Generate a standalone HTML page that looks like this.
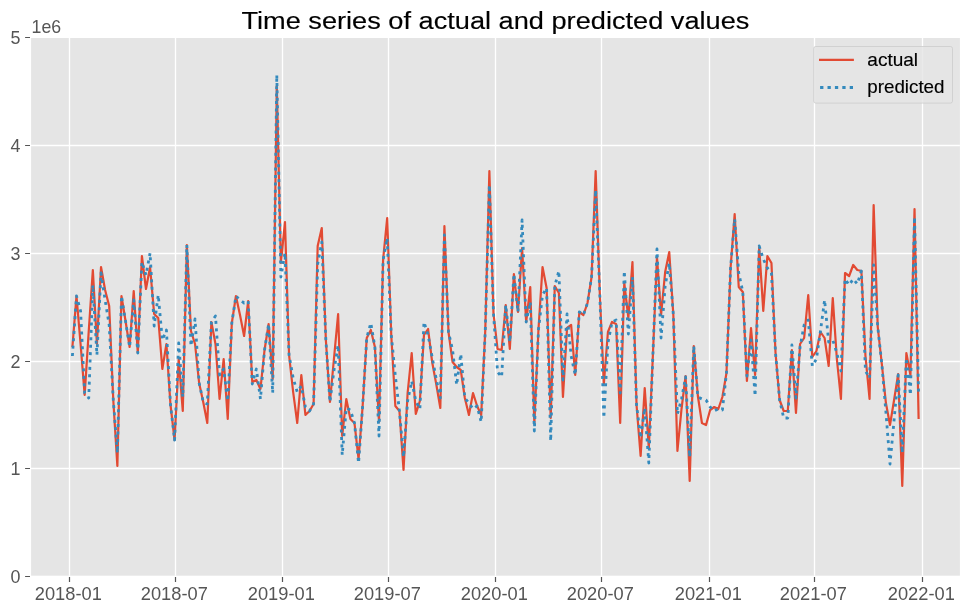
<!DOCTYPE html><html><head><meta charset="utf-8"><style>html,body{margin:0;padding:0;background:#fff;}svg{display:block;will-change:transform;}text{font-family:"Liberation Sans",sans-serif;}</style></head><body>
<svg width="970" height="614" viewBox="0 0 970 614">
<rect x="0" y="0" width="970" height="614" fill="#ffffff"/>
<rect x="31.1" y="38.0" width="928.8" height="537.7" fill="#E5E5E5"/>
<path d="M31.1,468.50H959.9M31.1,361.50H959.9M31.1,253.50H959.9M31.1,145.50H959.9M69.50,38.0V575.7M175.50,38.0V575.7M282.50,38.0V575.7M388.50,38.0V575.7M495.50,38.0V575.7M601.50,38.0V575.7M709.50,38.0V575.7M814.50,38.0V575.7M922.50,38.0V575.7" stroke="#ffffff" stroke-width="1.3" fill="none"/>
<path d="M25.1,576.50H30M25.1,468.50H30M25.1,361.50H30M25.1,253.50H30M25.1,145.50H30M25.1,37.50H30M69.50,577V582M175.50,577V582M282.50,577V582M388.50,577V582M495.50,577V582M601.50,577V582M709.50,577V582M814.50,577V582M922.50,577V582" stroke="#555555" stroke-width="1.2" fill="none"/>
<polyline points="72.40,347.0 76.49,296.0 80.58,344.0 84.66,395.0 88.75,331.0 92.84,270.0 96.93,344.0 101.02,267.0 105.10,290.0 109.19,306.0 113.28,400.0 117.37,466.0 121.46,296.0 125.54,321.0 129.63,347.0 133.72,291.0 137.81,353.0 141.90,256.0 145.98,289.0 150.07,267.0 154.16,314.0 158.25,318.0 162.34,369.0 166.42,344.0 170.51,405.0 174.60,440.0 178.69,359.0 182.78,411.0 186.86,245.0 190.95,331.0 195.04,344.0 199.13,383.0 203.22,402.0 207.30,423.0 211.39,322.0 215.48,344.0 219.57,399.0 223.66,359.0 227.74,419.0 231.83,323.0 235.92,296.0 240.01,315.0 244.10,336.0 248.18,301.0 252.27,382.0 256.36,380.0 260.45,389.0 264.54,350.0 268.62,324.0 272.71,379.0 276.80,86.0 280.89,263.0 284.98,222.0 289.06,355.0 293.15,392.0 297.24,423.0 301.33,375.0 305.42,415.0 309.50,411.0 313.59,404.0 317.68,246.0 321.77,228.0 325.86,340.0 329.94,402.0 334.03,358.0 338.12,314.0 342.21,436.0 346.30,399.0 350.38,419.0 354.47,423.0 358.56,459.0 362.65,406.0 366.74,338.0 370.82,330.0 374.91,347.0 379.00,422.0 383.09,260.0 387.18,218.0 391.26,335.0 395.35,406.0 399.44,411.0 403.53,470.0 407.62,393.0 411.70,353.0 415.79,414.0 419.88,401.0 423.97,335.0 428.06,329.0 432.14,362.0 436.23,384.0 440.32,408.0 444.41,226.0 448.50,332.0 452.58,362.0 456.67,367.0 460.76,370.0 464.85,398.0 468.94,415.0 473.02,393.0 477.11,406.0 481.20,415.0 485.29,330.0 489.38,171.0 493.46,313.0 497.55,349.0 501.64,350.0 505.73,305.0 509.82,349.0 513.90,274.0 517.99,312.0 522.08,248.0 526.17,322.0 530.26,287.0 534.34,424.0 538.43,330.0 542.52,267.0 546.61,288.0 550.70,418.0 554.78,286.0 558.87,293.0 562.96,397.0 567.05,328.0 571.14,325.0 575.22,375.0 579.31,312.0 583.40,315.0 587.49,303.0 591.58,277.0 595.66,171.0 599.75,292.0 603.84,384.0 607.93,332.0 612.02,322.0 616.10,324.0 620.19,423.0 624.28,283.0 628.37,318.0 632.46,262.0 636.54,405.0 640.63,456.0 644.72,388.0 648.81,448.0 652.90,355.0 656.98,257.0 661.07,315.0 665.16,272.0 669.25,252.0 673.34,315.0 677.42,451.0 681.51,409.0 685.60,376.0 689.69,481.0 693.78,346.0 697.86,396.0 701.95,423.0 706.04,425.0 710.13,410.0 714.22,407.0 718.30,409.0 722.39,397.0 726.48,373.0 730.57,268.0 734.66,214.0 738.74,287.0 742.83,292.0 746.92,381.0 751.01,328.0 755.10,375.0 759.18,247.0 763.27,311.0 767.36,256.0 771.45,263.0 775.54,353.0 779.62,400.0 783.71,411.0 787.80,411.0 791.89,350.0 795.98,413.0 800.06,344.0 804.15,338.0 808.24,295.0 812.33,357.0 816.42,351.0 820.50,332.0 824.59,338.0 828.68,366.0 832.77,298.0 836.86,359.0 840.94,399.0 845.03,273.0 849.12,276.0 853.21,265.0 857.30,270.0 861.38,271.0 865.47,356.0 869.56,399.0 873.65,205.0 877.74,327.0 881.82,364.0 885.91,403.0 890.00,425.0 894.09,400.0 898.18,374.0 902.26,486.0 906.35,353.0 910.44,375.0 914.53,209.0 918.62,419.0" fill="none" stroke="#E24A33" stroke-width="2.2" stroke-linejoin="round" stroke-linecap="butt"/>
<polyline points="72.40,356.0 76.49,296.0 80.58,311.0 84.66,393.0 88.75,398.0 92.84,285.0 96.93,355.0 101.02,273.0 105.10,300.0 109.19,325.0 113.28,400.0 117.37,453.0 121.46,296.0 125.54,321.0 129.63,347.0 133.72,300.0 137.81,353.0 141.90,262.0 145.98,275.0 150.07,253.0 154.16,326.0 158.25,295.0 162.34,340.0 166.42,330.0 170.51,405.0 174.60,440.0 178.69,343.0 182.78,397.0 186.86,245.0 190.95,346.0 195.04,319.0 199.13,383.0 203.22,402.0 207.30,404.0 211.39,322.0 215.48,316.0 219.57,375.0 223.66,369.0 227.74,401.0 231.83,323.0 235.92,296.0 240.01,300.0 244.10,303.0 248.18,301.0 252.27,384.0 256.36,369.0 260.45,399.0 264.54,350.0 268.62,324.0 272.71,393.0 276.80,75.0 280.89,277.0 284.98,253.0 289.06,355.0 293.15,378.0 297.24,392.0 301.33,386.0 305.42,407.0 309.50,411.0 313.59,404.0 317.68,264.0 321.77,242.0 325.86,340.0 329.94,402.0 334.03,370.0 338.12,345.0 342.21,455.0 346.30,408.0 350.38,410.0 354.47,423.0 358.56,463.0 362.65,406.0 366.74,338.0 370.82,323.0 374.91,347.0 379.00,436.0 383.09,260.0 387.18,238.0 391.26,335.0 395.35,376.0 399.44,411.0 403.53,457.0 407.62,401.0 411.70,381.0 415.79,401.0 419.88,409.0 423.97,322.0 428.06,335.0 432.14,357.0 436.23,379.0 440.32,398.0 444.41,235.0 448.50,332.0 452.58,350.0 456.67,385.0 460.76,354.0 464.85,398.0 468.94,403.0 473.02,409.0 477.11,406.0 481.20,422.0 485.29,330.0 489.38,185.0 493.46,313.0 497.55,372.0 501.64,377.0 505.73,305.0 509.82,342.0 513.90,274.0 517.99,312.0 522.08,220.0 526.17,322.0 530.26,302.0 534.34,431.0 538.43,330.0 542.52,295.0 546.61,288.0 550.70,441.0 554.78,286.0 558.87,271.0 562.96,380.0 567.05,314.0 571.14,356.0 575.22,375.0 579.31,312.0 583.40,315.0 587.49,303.0 591.58,277.0 595.66,190.0 599.75,292.0 603.84,418.0 607.93,343.0 612.02,322.0 616.10,320.0 620.19,393.0 624.28,271.0 628.37,334.0 632.46,277.0 636.54,405.0 640.63,438.0 644.72,408.0 648.81,463.0 652.90,355.0 656.98,249.0 661.07,338.0 665.16,286.0 669.25,263.0 673.34,315.0 677.42,414.0 681.51,399.0 685.60,377.0 689.69,457.0 693.78,346.0 697.86,397.0 701.95,399.0 706.04,400.0 710.13,407.0 714.22,411.0 718.30,409.0 722.39,410.0 726.48,373.0 730.57,268.0 734.66,219.0 738.74,273.0 742.83,292.0 746.92,376.0 751.01,340.0 755.10,396.0 759.18,246.0 763.27,259.0 767.36,268.0 771.45,273.0 775.54,353.0 779.62,400.0 783.71,418.0 787.80,418.0 791.89,345.0 795.98,398.0 800.06,347.0 804.15,325.0 808.24,320.0 812.33,366.0 816.42,359.0 820.50,331.0 824.59,300.0 828.68,342.0 832.77,340.0 836.86,353.0 840.94,371.0 845.03,279.0 849.12,285.0 853.21,279.0 857.30,284.0 861.38,271.0 865.47,371.0 869.56,378.0 873.65,265.0 877.74,327.0 881.82,364.0 885.91,412.0 890.00,464.0 894.09,420.0 898.18,375.0 902.26,453.0 906.35,358.0 910.44,395.0 914.53,217.0 918.62,395.0" fill="none" stroke="#348ABD" stroke-width="2.8" stroke-dasharray="3.0 4.4" stroke-linejoin="round" stroke-linecap="butt"/>
<text x="20.5" y="582.90" font-size="17.9" fill="#555555" text-anchor="end">0</text>
<text x="20.5" y="474.90" font-size="17.9" fill="#555555" text-anchor="end">1</text>
<text x="20.5" y="367.90" font-size="17.9" fill="#555555" text-anchor="end">2</text>
<text x="20.5" y="259.90" font-size="17.9" fill="#555555" text-anchor="end">3</text>
<text x="20.5" y="151.90" font-size="17.9" fill="#555555" text-anchor="end">4</text>
<text x="20.5" y="43.90" font-size="17.9" fill="#555555" text-anchor="end">5</text>
<text x="31.6" y="33.2" font-size="17.9" fill="#555555" textLength="29.6" lengthAdjust="spacingAndGlyphs">1e6</text>
<text x="68.30" y="599.8" font-size="17.9" fill="#555555" text-anchor="middle" textLength="67" lengthAdjust="spacingAndGlyphs">2018-01</text>
<text x="174.30" y="599.8" font-size="17.9" fill="#555555" text-anchor="middle" textLength="67" lengthAdjust="spacingAndGlyphs">2018-07</text>
<text x="281.30" y="599.8" font-size="17.9" fill="#555555" text-anchor="middle" textLength="67" lengthAdjust="spacingAndGlyphs">2019-01</text>
<text x="387.30" y="599.8" font-size="17.9" fill="#555555" text-anchor="middle" textLength="67" lengthAdjust="spacingAndGlyphs">2019-07</text>
<text x="494.30" y="599.8" font-size="17.9" fill="#555555" text-anchor="middle" textLength="67" lengthAdjust="spacingAndGlyphs">2020-01</text>
<text x="600.30" y="599.8" font-size="17.9" fill="#555555" text-anchor="middle" textLength="67" lengthAdjust="spacingAndGlyphs">2020-07</text>
<text x="708.30" y="599.8" font-size="17.9" fill="#555555" text-anchor="middle" textLength="67" lengthAdjust="spacingAndGlyphs">2021-01</text>
<text x="813.30" y="599.8" font-size="17.9" fill="#555555" text-anchor="middle" textLength="67" lengthAdjust="spacingAndGlyphs">2021-07</text>
<text x="921.30" y="599.8" font-size="17.9" fill="#555555" text-anchor="middle" textLength="67" lengthAdjust="spacingAndGlyphs">2022-01</text>
<text x="495.4" y="28.7" font-size="24.7" fill="#000000" stroke="#000000" stroke-width="0.15" text-anchor="middle" textLength="508" lengthAdjust="spacingAndGlyphs">Time series of actual and predicted values</text>
<rect x="813.7" y="46.5" width="138.8" height="56.6" rx="2" ry="2" fill="#E5E5E5" fill-opacity="0.8" stroke="#CCCCCC" stroke-opacity="0.8" stroke-width="1"/>
<path d="M819,59.9H853.9" stroke="#E24A33" stroke-width="2.2"/>
<path d="M820.1,87.5H853.2" stroke="#348ABD" stroke-width="3.1" stroke-dasharray="3.3 4.1"/>
<text x="867.3" y="65.5" font-size="17.9" fill="#000000" stroke="#000000" stroke-width="0.15" textLength="50.8" lengthAdjust="spacingAndGlyphs">actual</text>
<text x="867.3" y="93.2" font-size="17.9" fill="#000000" stroke="#000000" stroke-width="0.15" textLength="77.2" lengthAdjust="spacingAndGlyphs">predicted</text>
</svg></body></html>
